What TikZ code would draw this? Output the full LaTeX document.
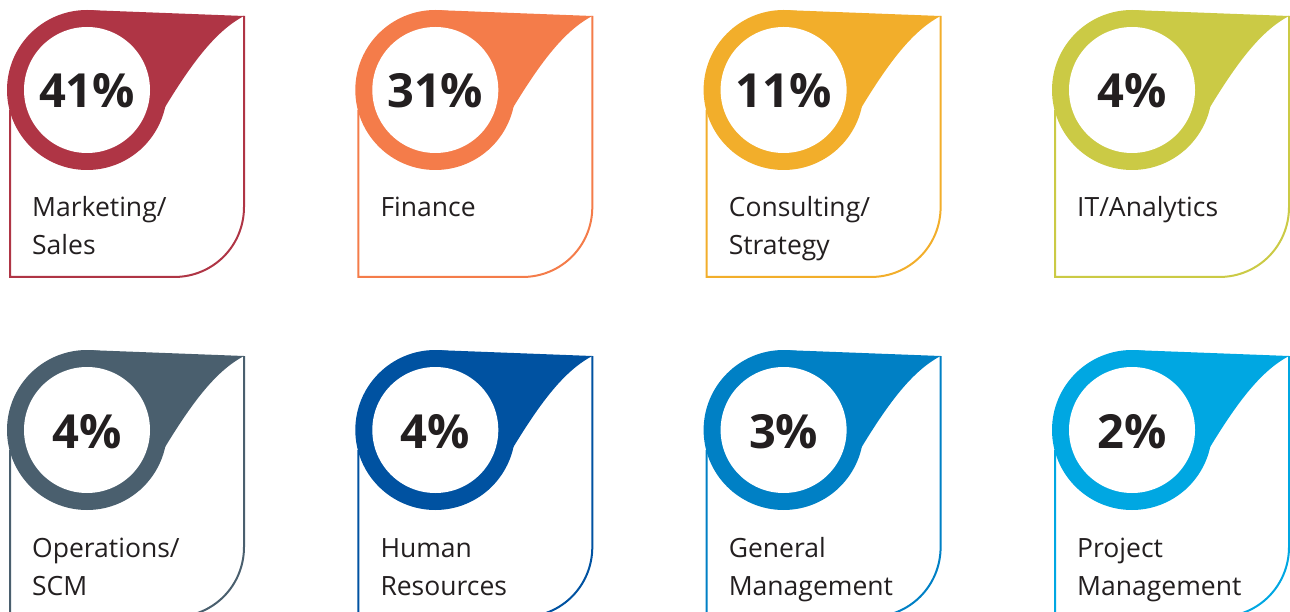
\documentclass[tikz,border=0pt]{standalone}
\usepackage{fontspec}
\setmainfont{Open Sans}
\definecolor{txt}{HTML}{231F20}
\definecolor{cA}{HTML}{AF3545}
\definecolor{cB}{HTML}{F47C4A}
\definecolor{cC}{HTML}{F2AE2B}
\definecolor{cD}{HTML}{CBCA45}
\definecolor{cE}{HTML}{4A5F6E}
\definecolor{cF}{HTML}{0052A1}
\definecolor{cG}{HTML}{0080C5}
\definecolor{cH}{HTML}{00A7E2}
\newcommand\mycard[7]{%
\begin{scope}[shift={(#2,#3)}]
 \fill[#4] (87,90) circle (80);
 \fill[#4] (87,10) -- (244,16) .. controls (210,34) and (182,76) .. (140,150) -- (87,90) -- cycle;
 \fill[white] (87,90) circle (63);
 \draw[#4, line width=2] (244,16) -- (244,207) .. controls (244,245.7) and (213.3,277) .. (174,277) -- (10,277) -- (10,110);
 \node[pct] (p#1) at (87,108) {#5};
 \node[lab] (l#1) at (32,#7) {#6};
\end{scope}}
\begin{document}
\begin{tikzpicture}[x=1pt,y=-1pt,
 pct/.style={font=\fontsize{47}{47}\selectfont\bfseries, text=txt, anchor=base, inner sep=0},
 lab/.style={font=\fontsize{26.5}{38}\selectfont, text=txt, anchor=base west, inner sep=0, align=left}]
\useasboundingbox (0,0) rectangle (1290,612);
\clip (0,0) rectangle (1290,612);
\mycard{1}{0}{0}{cA}{41\%}{Marketing/\\Sales}{255}
\mycard{2}{348.3}{0}{cB}{31\%}{Finance}{217}
\mycard{3}{696.6}{0}{cC}{11\%}{Consulting/\\Strategy}{255}
\mycard{4}{1045}{0}{cD}{4\%}{IT/Analytics}{217}
\mycard{5}{0}{340}{cE}{4\%}{Operations/\\SCM}{255}
\mycard{6}{348.3}{340}{cF}{4\%}{Human\\Resources}{255}
\mycard{7}{696.6}{340}{cG}{3\%}{General\\Management}{255}
\mycard{8}{1045}{340}{cH}{2\%}{Project\\Management}{255}
\end{tikzpicture}
\end{document}
